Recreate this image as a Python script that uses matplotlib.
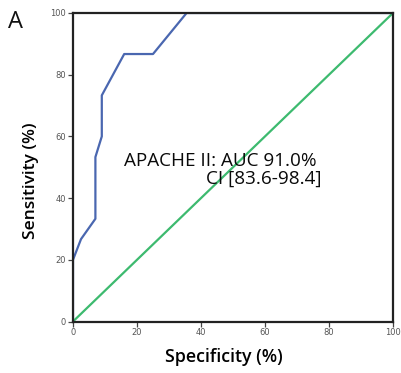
import matplotlib
matplotlib.use("Agg")
import matplotlib.pyplot as plt

# ROC curve data
fpr = [0, 0, 2.5, 7, 7, 9, 9, 16, 25, 35.5, 100]
tpr = [0, 20, 26.7, 33.3, 53.3, 60, 73.3, 86.7, 86.7, 100, 100]
ref_x = [0, 100]
ref_y = [0, 100]
ticks = [0, 20, 40, 60, 80, 100]
tick_labels = ["0", "20", "40", "60", "80", "100"]

fig = plt.figure(figsize=(4.01, 3.73), dpi=100)
ax = fig.add_axes([73/401, 1 - 321.5/373, 320/401, 308.5/373])

ax.plot(ref_x, ref_y, color="#3dba6f", lw=1.6, zorder=2)
ax.plot(fpr, tpr, color="#4a67b0", lw=1.6, zorder=2.2)

ax.set_xlim(0, 100)
ax.set_ylim(0, 100)
ax.set_xticks(ticks)
ax.set_xticklabels(tick_labels)
ax.set_yticks(ticks)
ax.set_yticklabels(tick_labels)
ax.tick_params(axis="both", labelsize=6, labelcolor="#555555", length=3.5,
               width=0.9, color="#444444", pad=1.5)
for s in ax.spines.values():
    s.set_linewidth(1.6)
    s.set_color("#222222")
    s.set_zorder(3)

ax.set_xlabel("Specificity (%)", fontsize=12.8, fontfamily="Open Sans",
              fontweight="semibold")
ax.set_ylabel("Sensitivity (%)", fontsize=12.5, fontfamily="Open Sans",
              fontweight="semibold")
ax.xaxis.set_label_coords(0.472, -0.086)
ax.yaxis.set_label_coords(-0.105, 0.455)

ax.text(16.0, 50.5, "APACHE II: AUC 91.0%", fontsize=13.6, fontfamily="Open Sans",
        ha="left", va="baseline", color="#0a0a0a", zorder=4)
ax.text(41.5, 44.6, "CI [83.6-98.4]", fontsize=13.6, fontfamily="Open Sans",
        ha="left", va="baseline", color="#0a0a0a", zorder=4)

fig.text(8/401, 1 - 28/373, "A", fontsize=17, fontfamily="Open Sans",
         ha="left", va="baseline", color="#111111")

fig.savefig("out.png", dpi=100)
